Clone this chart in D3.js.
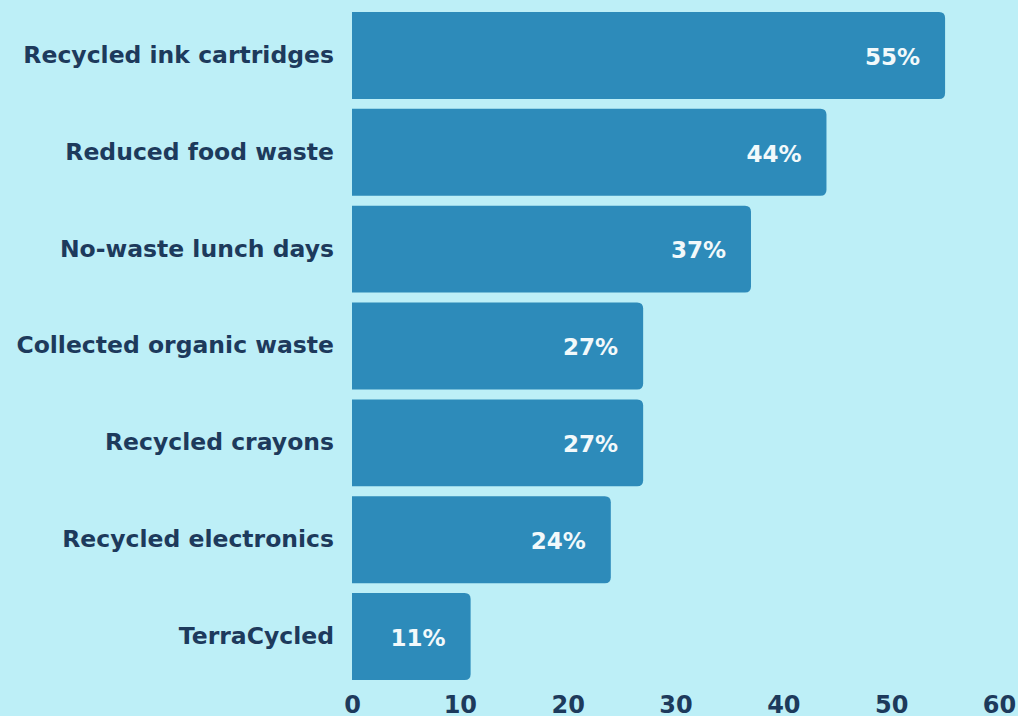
<!DOCTYPE html>
<html>
<head>
<meta charset="utf-8">
<script src="https://cdn.jsdelivr.net/npm/d3@7"></script>
<style>
  html, body { margin: 0; padding: 0; background: #bdeff7; }
  svg { display: block; }
  text { font-family: "DejaVu Sans", sans-serif; font-weight: bold; }
</style>
</head>
<body>
<svg id="chart" width="1018" height="716"></svg>
<script>
// Share of classrooms taking part in each waste-reduction activity (%)
const categories = [
  "Recycled ink cartridges",
  "Reduced food waste",
  "No-waste lunch days",
  "Collected organic waste",
  "Recycled crayons",
  "Recycled electronics",
  "TerraCycled"
];
const values = [55, 44, 37, 27, 27, 24, 11];
const tickValues = [0, 10, 20, 30, 40, 50, 60];

const width = 1018, height = 716;
const margin = { top: 12, right: 19, bottom: 36, left: 352 };

const svg = d3.select("#chart");

const x = d3.scaleLinear()
  .domain([0, 60])
  .range([margin.left, width - margin.right]);

const y = d3.scaleBand()
  .domain(categories)
  .range([margin.top, height - margin.bottom])
  .paddingInner(0.103)
  .paddingOuter(0);

const data = categories.map((c, i) => ({ category: c, value: values[i] }));
const r = 6;

// Bars: square on the left, rounded on the right
svg.append("g")
  .selectAll("path")
  .data(data)
  .join("path")
  .attr("fill", "#2d8bba")
  .attr("d", d => {
    const x0 = x(0), x1 = x(d.value);
    const y0 = y(d.category), h = y.bandwidth();
    return `M${x0},${y0} H${x1 - r} Q${x1},${y0} ${x1},${y0 + r} V${y0 + h - r} Q${x1},${y0 + h} ${x1 - r},${y0 + h} H${x0} Z`;
  });

// Value labels inside bars
svg.append("g")
  .selectAll("text")
  .data(data)
  .join("text")
  .attr("x", d => x(d.value) - 25)
  .attr("y", d => y(d.category) + y.bandwidth() / 2 + 1)
  .attr("dy", "0.36em")
  .attr("text-anchor", "end")
  .attr("fill", "#f2f9fb")
  .attr("font-size", 23)
  .text(d => d.value + "%");

// Category labels
svg.append("g")
  .selectAll("text")
  .data(data)
  .join("text")
  .attr("x", 334)
  .attr("y", d => y(d.category) + y.bandwidth() / 2 - 1)
  .attr("dy", "0.36em")
  .attr("text-anchor", "end")
  .attr("fill", "#1d3a5c")
  .attr("font-size", 23.5)
  .text(d => d.category);

// Bottom axis (tick labels only)
const axis = svg.append("g")
  .attr("transform", `translate(0,${height - margin.bottom})`)
  .call(d3.axisBottom(x).tickValues(tickValues).tickSize(0).tickPadding(0));
axis.select(".domain").remove();
axis.selectAll("text")
  .attr("y", 33)
  .attr("dy", 0)
  .attr("fill", "#1d3a5c")
  .attr("font-size", 24)
  .attr("font-family", "DejaVu Sans, sans-serif")
  .attr("font-weight", "bold");
</script>
</body>
</html>
